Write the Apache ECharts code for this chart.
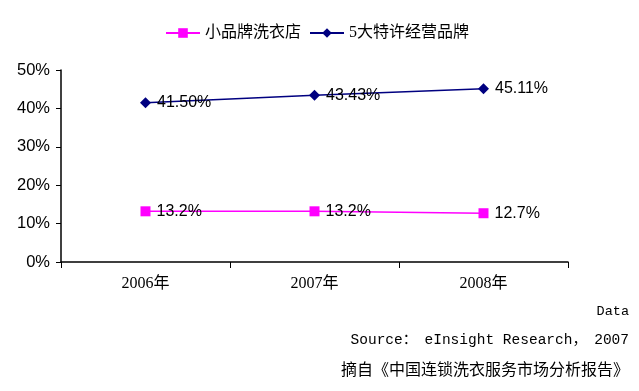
<!DOCTYPE html>
<html><head><meta charset="utf-8">
<script src="https://cdn.jsdelivr.net/npm/echarts@6/dist/echarts.min.js"></script>
<style>html,body{margin:0;padding:0;background:#fff}#c{width:639px;height:391px}</style>
</head><body><div id="c"></div>
<script>
var categories = ['2006年', '2007年', '2008年'];
var smallBrand = [13.2, 13.2, 12.7];
var smallBrandLabels = ['13.2%', '13.2%', '12.7%'];
var franchise = [41.50, 43.43, 45.11];
var franchiseLabels = ['41.50%', '43.43%', '45.11%'];
var yTicks = [0, 10, 20, 30, 40, 50];
var seriesNames = ['小品牌洗衣店', '5大特许经营品牌'];

var chart = echarts.init(document.getElementById('c'));
var labelFont = {fontFamily: 'Liberation Sans, Arial, sans-serif', fontSize: 16, color: '#000'};
chart.setOption({
  animation: false,
  backgroundColor: '#fff',
  legend: {
    top: 20, left: 160,
    itemWidth: 34, itemHeight: 12, itemGap: 8,
    textStyle: {fontFamily: 'Liberation Serif, "Noto Sans CJK SC", serif', fontSize: 16, color: '#000'},
    data: seriesNames
  },
  grid: {left: 61, right: 71, top: 70, bottom: 129, containLabel: false},
  xAxis: {
    type: 'category', data: categories, boundaryGap: true,
    axisLine: {lineStyle: {color: '#000', width: 1.5}},
    axisTick: {show: true, inside: false, length: 6, alignWithLabel: false, interval: 0, lineStyle: {color: '#000'}},
    axisLabel: {margin: 14, fontFamily: 'Liberation Serif, "Noto Sans CJK SC", serif', fontSize: 16, color: '#000'}
  },
  yAxis: {
    type: 'value', min: 0, max: 50, interval: 10,
    axisLine: {show: true, lineStyle: {color: '#000', width: 1.5}},
    axisTick: {show: true, length: 5, lineStyle: {color: '#000'}},
    splitLine: {show: false},
    axisLabel: {margin: 11, fontFamily: 'Liberation Sans, Arial, sans-serif', fontSize: 16.5, color: '#000',
      formatter: function (v) { return yTicks.indexOf(v) >= 0 ? v + '%' : ''; }}
  },
  series: [
    {
      name: seriesNames[0], type: 'line', data: smallBrand,
      symbol: 'rect', symbolSize: 10,
      itemStyle: {color: '#FF00FF'},
      lineStyle: {color: '#FF00FF', width: 1.5},
      label: Object.assign({show: true, position: 'right', distance: 6,
        formatter: function (p) { return smallBrandLabels[p.dataIndex]; }}, labelFont)
    },
    {
      name: seriesNames[1], type: 'line', data: franchise,
      symbol: 'diamond', symbolSize: 11,
      itemStyle: {color: '#000080'},
      lineStyle: {color: '#000080', width: 1.5},
      label: Object.assign({show: true, position: 'right', distance: 6,
        formatter: function (p) { return franchiseLabels[p.dataIndex]; }}, labelFont)
    }
  ],
  graphic: [
    {type: 'text', right: 10, top: 304, style: {text: 'Data', font: '13.5px "Liberation Mono", monospace', fill: '#000'}},
    {type: 'text', right: 10, top: 333, style: {text: 'Source：　eInsight Research，　2007', font: '14.5px "Liberation Mono", "Noto Sans CJK SC", monospace', fill: '#000'}},
    {type: 'text', right: 10, top: 361, style: {text: '摘自《中国连锁洗衣服务市场分析报告》', font: '16px "Noto Sans CJK SC", serif', fill: '#000'}}
  ]
});
</script></body></html>
